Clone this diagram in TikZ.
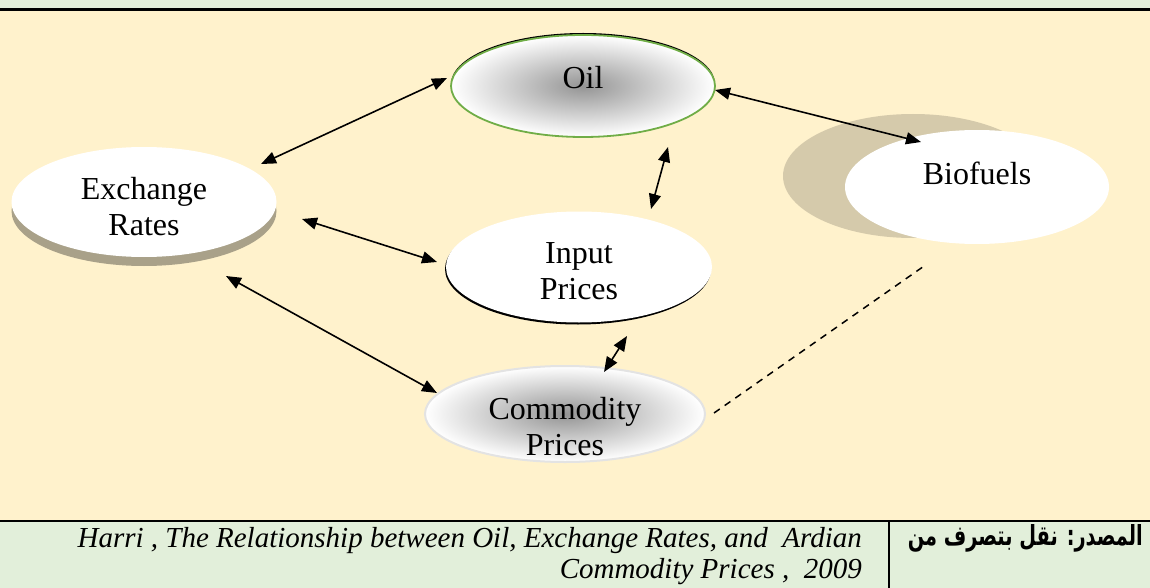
\documentclass[tikz,border=0pt]{standalone}
\usepackage{graphicx}
\usepackage{fontspec}
\setmainfont{Liberation Serif}
\newfontfamily\arabicfont[Script=Arabic]{DejaVu Sans}
\TeXXeTstate=1
\usetikzlibrary{shapes.geometric,arrows.meta,shadows}

\definecolor{paper}{HTML}{FFF2CC}
\definecolor{band}{HTML}{E2EFDA}
\definecolor{leaf}{HTML}{70AD47}
\definecolor{khaki}{HTML}{A9A189}
\definecolor{sand}{HTML}{D5CAAB}
\definecolor{rimgray}{HTML}{E3E3E3}

\begin{document}
\begin{tikzpicture}[x=1pt,y=-1pt,
  oval/.style={ellipse, inner sep=0pt},
  word/.style={font=\fontsize{32}{36}\selectfont, align=center, inner sep=0pt},
  glow/.style={shading=radial, inner color=black!42, outer color=white},
  link/.style={line width=1.6pt, {Triangle[length=15pt,width=12pt]}-{Triangle[length=15pt,width=12pt]}},
]
\useasboundingbox (0,0) rectangle (1150,588);

% page bands and rules
\fill[band] (0,0) rectangle (1150,9);
\fill[paper] (0,9) rectangle (1150,521);
\fill[band] (0,521) rectangle (1150,588);
\draw[line width=3pt] (0,9.5) -- (1150,9.5);
\draw[line width=2.5pt] (0,521) -- (1150,521);
\draw[line width=1.2pt] (889,522) -- (889,588);

% backdrop behind the biofuels oval
\fill[sand] (913,176) ellipse [x radius=130, y radius=62];

% ovals
\node[oval, minimum width=264pt, minimum height=102pt, draw=leaf, line width=1.8pt, glow,
      drop shadow={shadow xshift=0pt, shadow yshift=2pt, fill=black, opacity=1}] (oil) at (583,86) {};
\node[oval, minimum width=265pt, minimum height=110pt, fill=white,
      drop shadow={shadow xshift=0pt, shadow yshift=-9pt, fill=khaki, opacity=1}] (ex) at (144,202) {};
\node[oval, minimum width=264pt, minimum height=114pt, fill=white] (bio) at (977,187) {};
\node[oval, minimum width=266pt, minimum height=111pt, fill=white,
      drop shadow={shadow xshift=-1pt, shadow yshift=-2pt, fill=black, opacity=1}] (inp) at (579,267) {};
\node[oval, minimum width=280pt, minimum height=96pt, draw=rimgray, line width=2pt, glow] (com) at (565,414) {};

% oval texts
\node[word] (oilT) at (583,78) {Oil};
\node[word] (exT) at (144,206.5) {Exchange\\Rates};
\node[word] (bioT) at (977,173.5) {Biofuels};
\node[word] (inpT) at (579,271.5) {Input\\Prices};
\node[word] (comT) at (565,426.5) {Commodity\\Prices};

% connector ends
\coordinate (exO) at (261,164);  \coordinate (oilE) at (447,78);
\coordinate (exI) at (302,219);  \coordinate (inpE) at (437,262);
\coordinate (exC) at (226,276);  \coordinate (comE) at (437,393);
\coordinate (oilI) at (668,147); \coordinate (inpO) at (651,209);
\coordinate (inpC) at (627,336); \coordinate (comI) at (604,372);
\coordinate (oilB) at (715,90);  \coordinate (bioO) at (921,142);
\coordinate (comB) at (714,413); \coordinate (bioC) at (927,264);

\draw[link] (exO) -- (oilE);
\draw[link] (exI) -- (inpE);
\draw[link] (exC) -- (comE);
\draw[link] (oilI) -- (inpO);
\draw[link] (inpC) -- (comI);
\draw[link] (oilB) -- (bioO);
\draw[line width=1.5pt, dash pattern=on 7pt off 6pt] (comB) -- (bioC);

% source line
\node[anchor=east, inner sep=0pt, align=right, font=\fontsize{29}{31}\selectfont\itshape] (src) at (862,556)
  {Harri , The Relationship between Oil, Exchange Rates, and\ \ Ardian\\Commodity Prices ,\ \ 2009};
\node[anchor=east, inner sep=0pt] (srcAr) at (1143,538)
  {\resizebox{235pt}{!}{\scalebox{0.7}[1]{\arabicfont\bfseries\fontsize{28}{32}\selectfont\beginR المصدر: نقل بتصرف من\endR}}};
\end{tikzpicture}
\end{document}
